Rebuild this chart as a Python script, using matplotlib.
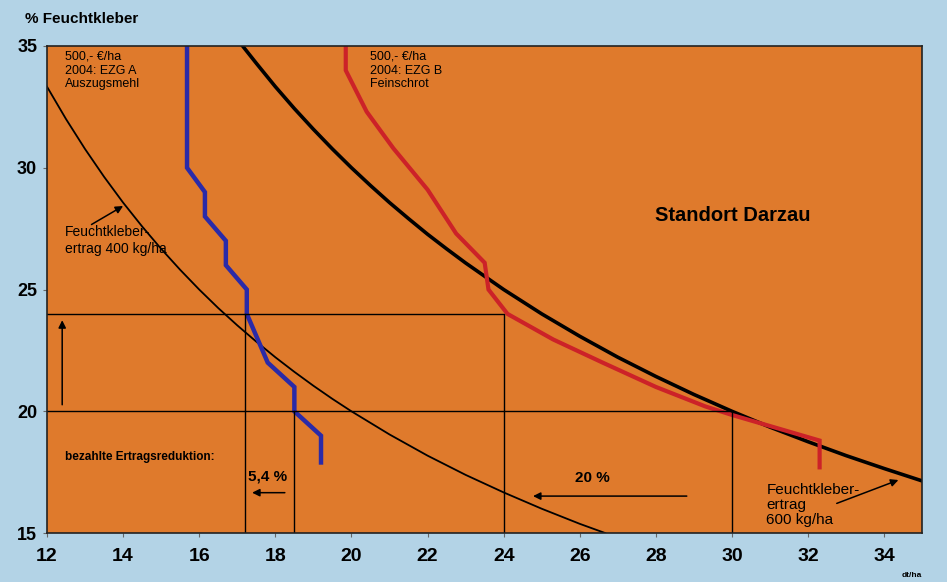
import matplotlib.pyplot as plt

plt.rcParams['font.family'] = ['Liberation Sans', 'DejaVu Sans']

# Feuchtkleberertrag 400 kg/ha (duenne Kurve)
k400_x = [12, 12.5, 13, 13.5, 14, 14.5, 15, 15.5, 16, 16.5, 17, 17.5, 18, 18.5, 19, 19.5, 20,
          21, 22, 23, 24, 25, 26, 26.67]
k400_y = [33.33, 32.00, 30.77, 29.63, 28.57, 27.59, 26.67, 25.81, 25.00, 24.24, 23.53, 22.86, 22.22,
          21.62, 21.05, 20.51, 20.00, 19.05, 18.18, 17.39, 16.67, 16.00, 15.38, 15.00]

# Feuchtkleberertrag 600 kg/ha (dicke Kurve)
k600_x = [17.14, 17.5, 18, 18.5, 19, 19.5, 20, 20.5, 21, 21.5, 22, 22.5, 23, 24, 25, 26, 27, 28, 29, 30,
          31, 32, 33, 34, 35]
k600_y = [35.00, 34.29, 33.33, 32.43, 31.58, 30.77, 30.00, 29.27, 28.57, 27.91, 27.27, 26.67, 26.09,
          25.00, 24.00, 23.08, 22.22, 21.43, 20.69, 20.00, 19.35, 18.75, 18.18, 17.65, 17.14]

# EZG A Auszugsmehl (blau)
a_x = [15.68, 15.68, 16.15, 16.15, 16.7, 16.7, 17.25, 17.25, 17.8, 18.5, 18.5, 19.2, 19.2]
a_y = [35, 30, 29, 28, 27, 26, 25, 24, 22, 21, 20, 19, 17.9]

# EZG B Feinschrot (rot)
b_x = [19.85, 19.85, 20.4, 21.1, 22.0, 22.75, 23.5, 23.6, 24.1, 25.3, 26.6, 28.0, 29.3, 30.0, 32.3, 32.3]
b_y = [35, 34, 32.3, 30.8, 29.1, 27.3, 26.1, 25.0, 24.0, 22.95, 22.0, 21.0, 20.2, 19.85, 18.8, 17.7]

x_ticks = [12, 14, 16, 18, 20, 22, 24, 26, 28, 30, 32, 34]
y_ticks = [15, 20, 25, 30, 35]

bg = '#b3d3e6'
orange = '#df7a2c'

fig = plt.figure(figsize=(9.47, 5.82), dpi=100, facecolor=bg)
ax = fig.add_axes([0.0496, 0.084, 0.9244, 0.837])
ax.set_facecolor(orange)

ax.plot(k400_x, k400_y, color='black', lw=1.3)
ax.plot(k600_x, k600_y, color='black', lw=2.6)
ax.plot(a_x, a_y, color='#2a2aa8', lw=3.2, solid_joinstyle='miter')
ax.plot(b_x, b_y, color='#cc2228', lw=3.0, solid_joinstyle='miter')

# Hilfslinien
ax.plot([12, 24, 24], [24, 24, 15], color='black', lw=1)
ax.plot([12, 30, 30], [20, 20, 15], color='black', lw=1)
ax.plot([17.2, 17.2], [15, 24], color='black', lw=1)
ax.plot([18.5, 18.5], [15, 20], color='black', lw=1)

ax.set_xlim(12, 35)
ax.set_ylim(15, 35)
ax.set_xticks(x_ticks)
ax.set_yticks(y_ticks)
ax.tick_params(axis='x', labelsize=14, length=3, color='#666666', pad=8)
ax.tick_params(axis='y', labelsize=13, length=3, color='#666666', pad=4)
for lab in ax.get_xticklabels() + ax.get_yticklabels():
    lab.set_fontweight('bold')
for s in ax.spines.values():
    s.set_color('#222222')
    s.set_linewidth(1.2)

fig.text(0.026, 0.968, '% Feuchtkleber', fontsize=11, fontweight='bold', va='center')
fig.text(0.952, 0.006, 'dt/ha', fontsize=6, fontweight='bold', va='bottom')

ax.text(12.47, 34.8, '500,- €/ha\n2004: EZG A\nAuszugsmehl', fontsize=9, va='top', linespacing=1.2)
ax.text(20.5, 34.8, '500,- €/ha\n2004: EZG B\nFeinschrot', fontsize=9, va='top', linespacing=1.2)
ax.text(27.97, 28.05, 'Standort Darzau', fontsize=14.5, fontweight='bold', va='center')
ax.text(12.47, 27.0, 'Feuchtkleber-\nertrag 400 kg/ha', fontsize=10, va='center', linespacing=1.25)
ax.text(30.9, 16.15, 'Feuchtkleber-\nertrag\n600 kg/ha', fontsize=11, va='center', linespacing=1.1)
ax.text(12.47, 18.14, 'bezahlte Ertragsreduktion:', fontsize=8.5, fontweight='bold', va='center')
ax.text(17.28, 17.32, '5,4 %', fontsize=11, fontweight='bold', va='center')
ax.text(26.32, 17.26, '20 %', fontsize=11, fontweight='bold', va='center', ha='center')

arr = dict(arrowstyle='-|>', color='black', lw=1.1, mutation_scale=11, shrinkA=0, shrinkB=0)
ax.annotate('', xy=(14.0, 28.43), xytext=(13.17, 27.67), arrowprops=arr)
ax.annotate('', xy=(34.37, 17.18), xytext=(32.75, 16.22), arrowprops=arr)
ax.annotate('', xy=(17.39, 16.66), xytext=(18.25, 16.66), arrowprops=arr)
ax.annotate('', xy=(24.77, 16.52), xytext=(28.81, 16.52), arrowprops=arr)
ax.annotate('', xy=(12.4, 23.74), xytext=(12.4, 20.27), arrowprops=arr)

fig.savefig('out.png', dpi=100, facecolor=bg)
